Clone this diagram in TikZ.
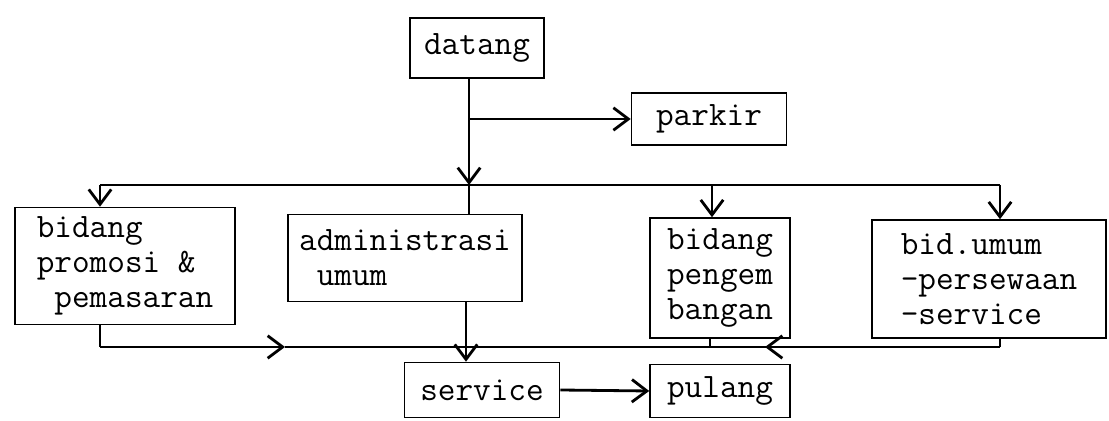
\documentclass[tikz,border=0pt]{standalone}
\usepackage{fontspec}
\usetikzlibrary{arrows.meta}

\tikzset{
  box/.style={draw, line width=0.9pt, inner sep=0pt, align=left,
    font=\ttfamily\fontsize{19.5}{20}\selectfont},
  flow/.style={line width=1.6pt},
  arr/.style={flow, -{Straight Barb[length=3mm,width=4.5mm]}},
}

\begin{document}
\begin{tikzpicture}[x=0.02cm,y=-0.02cm]
  \useasboundingbox (0,0) rectangle (1109,421);

  % boxes
  \node[box, minimum width=2.68cm, minimum height=1.2cm] (datang) at (477,48) {datang};
  \node[box, minimum width=3.1cm, minimum height=1.04cm] (parkir) at (709,119) {parkir};
  \node[box, minimum width=4.4cm, minimum height=2.34cm] (promosi) at (125,266) {bidang\\promosi \&\\\ pemasaran};
  \node[box, minimum width=4.68cm, minimum height=1.74cm] (admin) at (405,258) {administrasi\\\ umum};
  \node[box, minimum width=2.8cm, minimum height=2.4cm] (pengem) at (720,278) {bidang\\pengem\\bangan};
  \node[box, minimum width=4.68cm, minimum height=2.36cm] (umum) at (989,279) {bid.umum\\-persewaan\\-service};
  \node[box, minimum width=3.1cm, minimum height=1.1cm] (service) at (482,390) {service};
  \node[box, minimum width=2.8cm, minimum height=1.06cm] (pulang) at (720,391) {pulang};

  % top bus
  \coordinate (fork) at (469,119);
  \coordinate (tbus) at (469,185);
  \coordinate (tl) at (100,185);
  \coordinate (tr) at (1000,185);
  \coordinate (tm) at (712,185);

  \draw[flow] (datang.south -| fork) -- (fork);
  \draw[arr] (fork) -- (parkir.west |- fork);
  \draw[arr] (fork) -- (tbus);
  \draw[flow] (tl) -- (tr);
  \draw[flow] (tbus) -- (admin.north -| tbus);
  \draw[arr] (tl) -- (promosi.north -| tl);
  \draw[arr] (tm) -- (pengem.north -| tm);
  \draw[arr] (tr) -- (umum.north -| tr);

  % bottom bus
  \coordinate (bl) at (100,347);
  \coordinate (br) at (1000,347);
  \coordinate (bm) at (710,347);
  \coordinate (mr) at (285,347);
  \coordinate (ml) at (765,347);
  \coordinate (down) at (466,347);

  \draw[flow] (promosi.south -| bl) -- (bl);
  \draw[arr] (bl) -- (mr);
  \draw[flow] (mr) -- (br);
  \draw[arr] (br) -- (ml);
  \draw[flow] (pengem.south -| bm) -- (bm);
  \draw[flow] (umum.south -| br) -- (br);
  \draw[arr] (admin.south -| down) -- (service.north -| down);
  \draw[arr] (service.east) -- (pulang.west);
\end{tikzpicture}
\end{document}
